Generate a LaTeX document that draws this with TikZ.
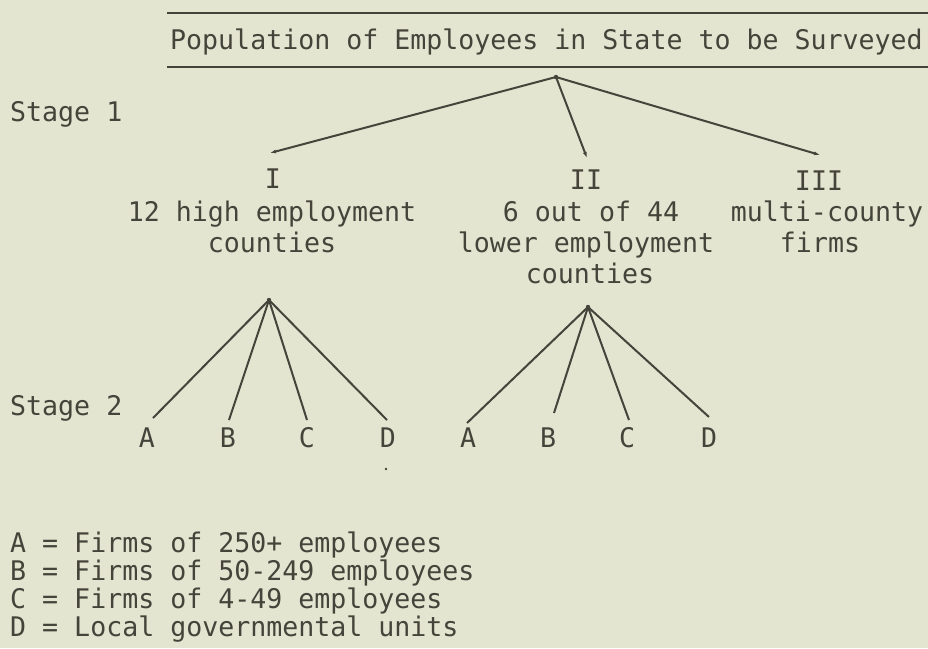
\documentclass[tikz,border=0pt]{standalone}
\usepackage{fontspec}
\newfontfamily\tw[FakeStretch=0.985]{DejaVu Sans Mono}
\usetikzlibrary{arrows.meta}
\definecolor{bg}{HTML}{E4E5D1}
\definecolor{ink}{HTML}{45443A}
\begin{document}
\begin{tikzpicture}[x=1pt,y=-1pt,
  txt/.style={inner sep=0pt, text=ink, font=\tw\fontsize{27}{30}\selectfont, anchor=base},
  ltxt/.style={txt, anchor=base west},
  branch/.style={draw=ink, line width=2pt},
  tip/.style={branch, -{Latex[length=6pt,width=4pt]}},
  rulestyle/.style={draw=ink, line width=2.8pt},
  blob/.style={fill=ink}]
\fill[bg] (0,0) rectangle (928,648);
\useasboundingbox (0,0) rectangle (928,648);
% title and rules
\coordinate (r1a) at (167,13); \coordinate (r1b) at (928,13);
\coordinate (r2a) at (167,67); \coordinate (r2b) at (928,67);
\draw[rulestyle] (r1a) -- (r1b);
\draw[rulestyle] (r2a) -- (r2b);
\node[ltxt] (title) at (170,49) {Population of Employees in State to be Surveyed};
% stage labels
\node[ltxt] (st1) at (10,121) {Stage 1};
\node[ltxt] (st2) at (10,415) {Stage 2};
% stage 1 tree
\coordinate (top) at (556,77);
\coordinate (eI) at (270,153);
\coordinate (eII) at (587,158);
\coordinate (eIII) at (820,155);
\draw[tip] (top) -- (eI);
\draw[tip] (top) -- (eII);
\draw[tip] (top) -- (eIII);
\fill[blob] (top) circle (2.2);
\node[txt] (nI) at (273,188) {I};
\node[txt] (nII) at (586,189) {II};
\node[txt] (nIII) at (819,190) {III};
\node[txt] (c1a) at (272,221) {12 high employment};
\node[txt] (c1b) at (272,252) {counties};
\node[txt] (c2a) at (591,221) {6 out of 44};
\node[txt] (c2b) at (586,252) {lower employment};
\node[txt] (c2c) at (590,283) {counties};
\node[txt] (c3a) at (827,221) {multi-county};
\node[txt] (c3b) at (820,252) {firms};
% stage 2 tree, left
\coordinate (t2) at (269,300);
\coordinate (aA) at (153,418);
\coordinate (aB) at (229,420);
\coordinate (aC) at (307,420);
\coordinate (aD) at (387,420);
\foreach \e in {aA,aB,aC,aD} \draw[branch] (t2) -- (\e);
\fill[blob] (t2) circle (2.2);
\node[txt] (lA) at (147,447) {A};
\node[txt] (lB) at (228,447) {B};
\node[txt] (lC) at (307,447) {C};
\node[txt] (lD) at (388,447) {D};
% stage 2 tree, right
\coordinate (t3) at (588,307);
\coordinate (bA) at (467,423);
\coordinate (bB) at (554,413);
\coordinate (bC) at (629,420);
\coordinate (bD) at (709,417);
\foreach \e in {bA,bB,bC,bD} \draw[branch] (t3) -- (\e);
\fill[blob] (t3) circle (2.2);
\node[txt] (mA) at (468,447) {A};
\node[txt] (mB) at (548,447) {B};
\node[txt] (mC) at (627,447) {C};
\node[txt] (mD) at (709,447) {D};
\fill[blob] (386,469) circle (1.3);
% legend
\node[ltxt] (legA) at (10,552) {A = Firms of 250+ employees};
\node[ltxt] (legB) at (10,580) {B = Firms of 50-249 employees};
\node[ltxt] (legC) at (10,608) {C = Firms of 4-49 employees};
\node[ltxt] (legD) at (10,636) {D = Local governmental units};
\end{tikzpicture}
\end{document}
